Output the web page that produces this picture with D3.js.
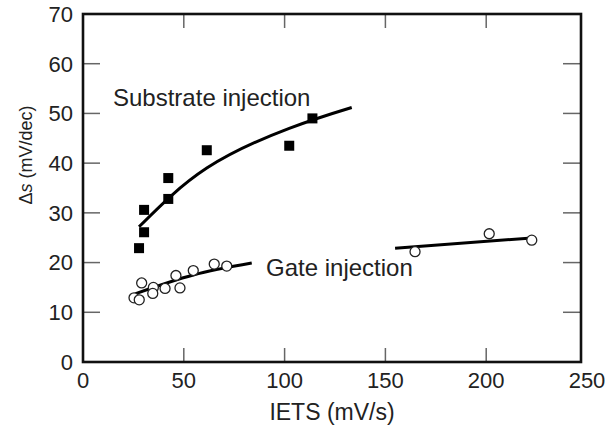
<!DOCTYPE html>
<html>
<head>
<meta charset="utf-8">
<script src="https://cdn.jsdelivr.net/npm/d3@7"></script>
<style>
  body { margin: 0; background: #fff; }
  text { font-family: "Liberation Sans", Arial, Helvetica, sans-serif; fill: #222; }
</style>
</head>
<body>
<div id="chart"></div>
<script>
// Data
const substrateX = [27.8, 30.3, 30.3, 42.3, 42.3, 61.4, 102.3, 113.8]
const substrateY = [22.9, 26.1, 30.6, 32.8, 37.0, 42.6, 43.5, 49.0]
const substrateFitX = [27.8, 61.4, 102.3, 133.3]
const substrateFitY = [27.2, 39.0, 47.0, 51.2]

const gateX = [29.1, 25.3, 27.9, 34.9, 34.6, 40.7, 46.1, 48.1, 54.7, 65.1, 71.3, 164.7, 201.5, 222.6]
const gateY = [15.9, 12.9, 12.5, 15.0, 13.8, 14.8, 17.4, 14.9, 18.4, 19.7, 19.3, 22.2, 25.8, 24.5]
const gateFit1X = [25.8, 54.7, 83.7]
const gateFit1Y = [13.7, 17.5, 19.9]
const gateFit2X = [154.8, 220.9]
const gateFit2Y = [22.9, 24.9]

const xTicks = [0, 50, 100, 150, 200, 250]
const yTicks = [0, 10, 20, 30, 40, 50, 60, 70]

function draw() {
  // Dimensions
  const dimensions = {
    width: 605,
    height: 427,
    left: 83,
    top: 14,
    bottom: 362,
    xEnd: 587,
    frameRight: 581
  }

  const svg = d3.select('#chart')
    .append('svg')
    .attr('width', dimensions.width)
    .attr('height', dimensions.height)

  // Scales
  const xScale = d3.scaleLinear()
    .domain([0, 250])
    .range([dimensions.left, dimensions.xEnd])

  const yScale = d3.scaleLinear()
    .domain([0, 70])
    .range([dimensions.bottom, dimensions.top])

  // Ticks (inward, grey)
  const tickColor = '#666'
  const xInner = xTicks.slice(1, -1)
  const yInner = yTicks.slice(1, -1)

  svg.append('g').selectAll('line')
    .data(xInner)
    .join('line')
    .attr('x1', d => xScale(d)).attr('x2', d => xScale(d))
    .attr('y1', dimensions.bottom).attr('y2', dimensions.bottom - 14)
    .attr('stroke', tickColor).attr('stroke-width', 1.5)

  svg.append('g').selectAll('line')
    .data(xInner)
    .join('line')
    .attr('x1', d => xScale(d)).attr('x2', d => xScale(d))
    .attr('y1', dimensions.top).attr('y2', dimensions.top + 14)
    .attr('stroke', tickColor).attr('stroke-width', 1.5)

  svg.append('g').selectAll('line')
    .data(yInner)
    .join('line')
    .attr('x1', dimensions.left).attr('x2', dimensions.left + 17)
    .attr('y1', d => yScale(d)).attr('y2', d => yScale(d))
    .attr('stroke', tickColor).attr('stroke-width', 1.5)

  svg.append('g').selectAll('line')
    .data(yInner)
    .join('line')
    .attr('x1', dimensions.frameRight - 18).attr('x2', dimensions.frameRight)
    .attr('y1', d => yScale(d)).attr('y2', d => yScale(d))
    .attr('stroke', tickColor).attr('stroke-width', 1.5)

  // Frame
  svg.append('rect')
    .attr('x', dimensions.left)
    .attr('y', dimensions.top)
    .attr('width', dimensions.frameRight - dimensions.left)
    .attr('height', dimensions.bottom - dimensions.top)
    .attr('fill', 'none')
    .attr('stroke', '#111')
    .attr('stroke-width', 2.6)

  // Tick labels
  svg.append('g').selectAll('text')
    .data(xTicks)
    .join('text')
    .attr('x', d => xScale(d))
    .attr('y', dimensions.bottom + 26)
    .attr('text-anchor', 'middle')
    .style('font-size', '22px')
    .text(d => d)

  svg.append('g').selectAll('text')
    .data(yTicks)
    .join('text')
    .attr('x', dimensions.left - 10)
    .attr('y', d => yScale(d))
    .attr('dy', '0.36em')
    .attr('text-anchor', 'end')
    .style('font-size', '22px')
    .text(d => d)

  // Axis titles
  svg.append('text')
    .attr('x', (dimensions.left + dimensions.frameRight) / 2)
    .attr('y', 420)
    .attr('text-anchor', 'middle')
    .style('font-size', '23px')
    .text('IETS (mV/s)')

  const yTitle = svg.append('text')
    .attr('transform', 'translate(32, 155) rotate(-90)')
    .attr('text-anchor', 'middle')
    .style('font-size', '18px')
  yTitle.append('tspan').text('Δ')
  yTitle.append('tspan').style('font-style', 'italic').text('s')
  yTitle.append('tspan').text(' (mV/dec)')

  // Fit lines
  const line = d3.line()
    .x(d => xScale(d[0]))
    .y(d => yScale(d[1]))
    .curve(d3.curveNatural)

  const fits = [
    d3.zip(substrateFitX, substrateFitY),
    d3.zip(gateFit1X, gateFit1Y),
    d3.zip(gateFit2X, gateFit2Y)
  ]

  svg.append('g').selectAll('path')
    .data(fits)
    .join('path')
    .attr('d', line)
    .attr('fill', 'none')
    .attr('stroke', '#000')
    .attr('stroke-width', 3)

  // Markers
  const sq = 10
  svg.append('g').selectAll('rect')
    .data(d3.zip(substrateX, substrateY))
    .join('rect')
    .attr('x', d => xScale(d[0]) - sq / 2)
    .attr('y', d => yScale(d[1]) - sq / 2)
    .attr('width', sq)
    .attr('height', sq)
    .attr('fill', '#000')

  svg.append('g').selectAll('circle')
    .data(d3.zip(gateX, gateY))
    .join('circle')
    .attr('cx', d => xScale(d[0]))
    .attr('cy', d => yScale(d[1]))
    .attr('r', 5)
    .attr('fill', '#fff')
    .attr('stroke', '#222')
    .attr('stroke-width', 1.3)

  // Labels
  svg.append('text')
    .attr('x', 113)
    .attr('y', 106)
    .style('font-size', '24px')
    .text('Substrate injection')

  svg.append('text')
    .attr('x', 266)
    .attr('y', 276)
    .style('font-size', '24px')
    .text('Gate injection')
}

draw()
</script>
</body>
</html>
